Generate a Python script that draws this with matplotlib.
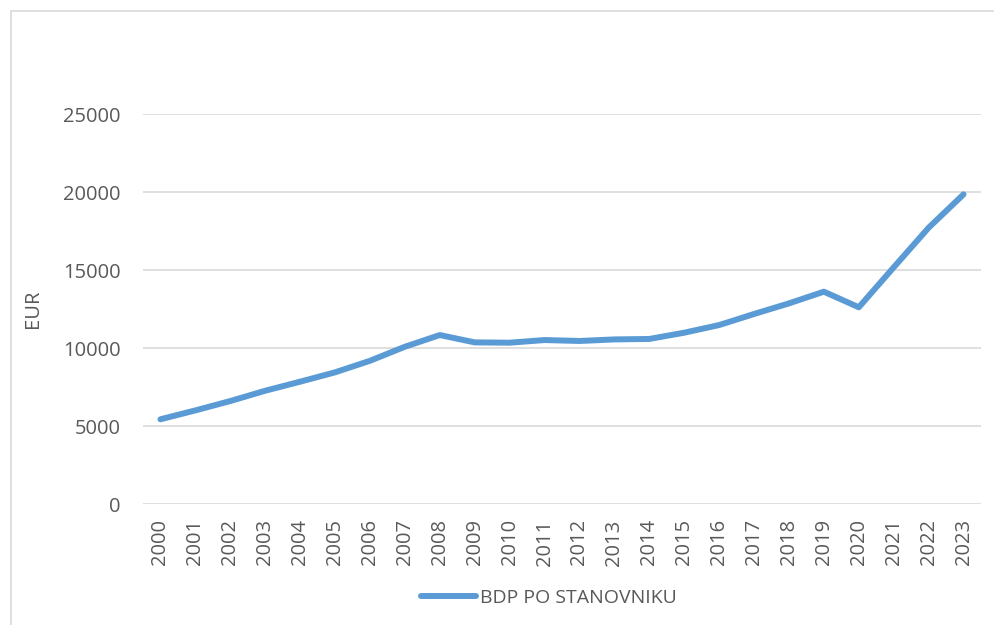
import matplotlib
matplotlib.use('Agg')
import matplotlib.pyplot as plt
from matplotlib.patches import Rectangle

# data
years = [str(y) for y in range(2000, 2024)]
bdp = [5430, 6000, 6600, 7260, 7840, 8440, 9180, 10080, 10830, 10360,
       10340, 10510, 10450, 10550, 10580, 10980, 11470, 12180, 12860, 13610,
       12610, 15170, 17710, 19850]
yticks = [0, 5000, 10000, 15000, 20000, 25000]

txt_color = '#595959'
grid_color = '#D9D9D9'
line_color = '#5B9BD5'

plt.rcParams['font.family'] = ['Open Sans', 'DejaVu Sans']

W, H = 994, 625
fig = plt.figure(figsize=(W / 100, H / 100), dpi=100)
ax = fig.add_axes([143 / W, 1 - 504 / H, (981 - 143) / W, (504 - 114) / H])

x = list(range(len(years)))
line, = ax.plot(x, bdp, color=line_color, lw=4.3, solid_capstyle='round',
                solid_joinstyle='round', label='BDP PO STANOVNIKU', zorder=3)

ax.set_xlim(-0.5, len(years) - 0.5)
ax.set_ylim(0, 25000)
ax.set_yticks(yticks)
ax.set_yticklabels([str(v) for v in yticks])
ax.set_xticks(x)
ax.set_xticklabels(years, rotation=90)

ax.grid(axis='y', color=grid_color, lw=1.2)
ax.set_axisbelow(True)
for s in ax.spines.values():
    s.set_visible(False)
ax.tick_params(axis='both', length=0, colors=txt_color, labelsize=14.5)
ax.tick_params(axis='y', pad=16)
ax.tick_params(axis='x', pad=11)

ax.set_ylabel('EUR', color=txt_color, fontsize=14.5)
ax.yaxis.set_label_coords((43 - 143) / (981 - 143), 0.5)

leg = fig.legend(handles=[line], loc='center', bbox_to_anchor=(549 / W, 1 - 598 / H),
                 frameon=False, fontsize=14, handlelength=2.85, handletextpad=0.2,
                 labelcolor=txt_color)

# outer chart border (cut off at right and bottom)
fig.patches.append(Rectangle((11 / W, -0.1), 1.2, 1 - 11 / H + 0.1,
                             transform=fig.transFigure, fill=False,
                             edgecolor=grid_color, lw=1.2))

fig.savefig('out.png', dpi=100)
